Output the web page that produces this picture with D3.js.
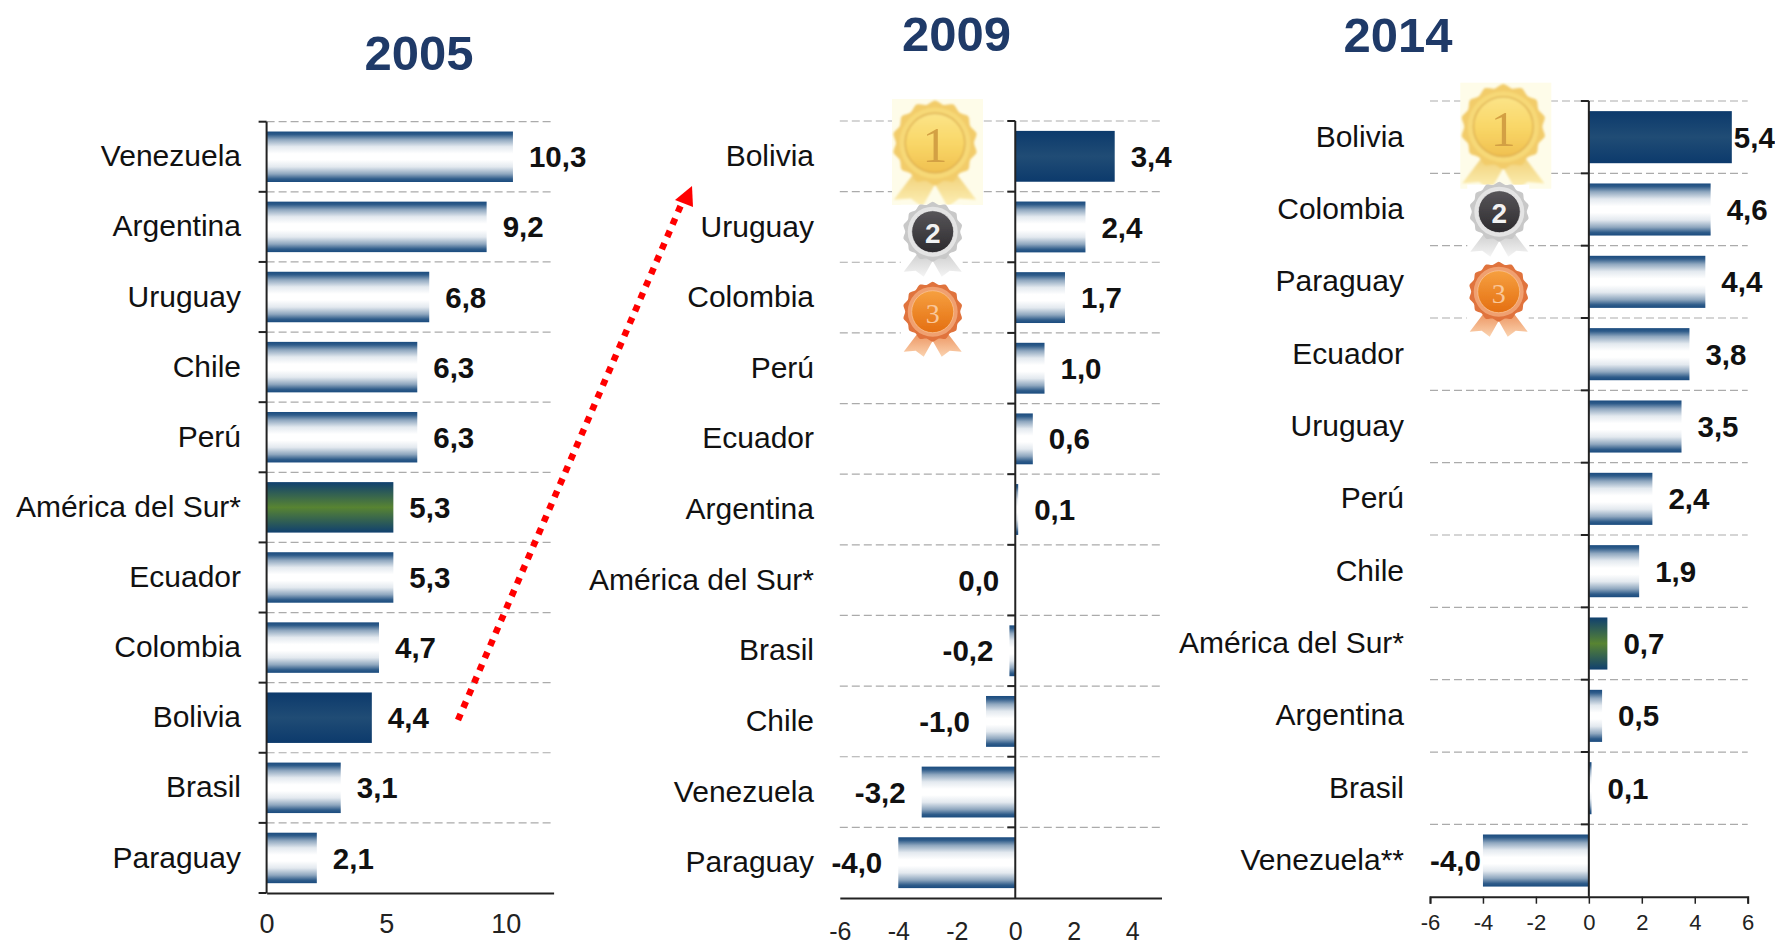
<!DOCTYPE html>
<html lang="es">
<head>
<meta charset="utf-8">
<title>2005 / 2009 / 2014</title>
<script src="https://cdn.jsdelivr.net/npm/d3@7"></script>
<style>
  html, body { margin: 0; padding: 0; background: #fff; }
  svg { display: block; font-family: "Liberation Sans", Arial, sans-serif; }
</style>
</head>
<body>
<div id="chart"></div>
<script>
const countries2005 = ["Venezuela", "Argentina", "Uruguay", "Chile", "Perú", "América del Sur*", "Ecuador", "Colombia", "Bolivia", "Brasil", "Paraguay"];
const values2005 = [10.3, 9.2, 6.8, 6.3, 6.3, 5.3, 5.3, 4.7, 4.4, 3.1, 2.1];

const countries2009 = ["Bolivia", "Uruguay", "Colombia", "Perú", "Ecuador", "Argentina", "América del Sur*", "Brasil", "Chile", "Venezuela", "Paraguay"];
const values2009 = [3.4, 2.4, 1.7, 1.0, 0.6, 0.1, 0.0, -0.2, -1.0, -3.2, -4.0];

const countries2014 = ["Bolivia", "Colombia", "Paraguay", "Ecuador", "Uruguay", "Perú", "Chile", "América del Sur*", "Argentina", "Brasil", "Venezuela**"];
const values2014 = [5.4, 4.6, 4.4, 3.8, 3.5, 2.4, 1.9, 0.7, 0.5, 0.1, -4.0];

const ticks2005 = [0, 5, 10];
const ticks2009 = [-6, -4, -2, 0, 2, 4];
const ticks2014 = [-6, -4, -2, 0, 2, 4, 6];

const panels = [
    { year: "2005", titleX: 419, titleY: 70, names: countries2005, values: values2005, ticks: ticks2005,
      domain: [0, 12], xRange: [266.6, 553.6], yRange: [121.7, 893], labelEnd: 241,
      tickFont: 27, tickPad: 21, tickLen: 0, tight: [] },
    { year: "2009", titleX: 956.5, titleY: 51, names: countries2009, values: values2009, ticks: ticks2009,
      domain: [-6, 5], xRange: [839.8, 1161.5], yRange: [121, 898], labelEnd: 814,
      tickFont: 25, tickPad: 24, tickLen: 0, tight: [] },
    { year: "2014", titleX: 1398, titleY: 52, names: countries2014, values: values2014, ticks: ticks2014,
      domain: [-6, 6], xRange: [1430, 1747.7], yRange: [101, 896.7], labelEnd: 1404,
      tickFont: 22, tickPad: 11, tickLen: 7, tight: ["Bolivia", "Venezuela**"] }
];

const medals = [
    { kind: "gold", cx: 935, cy: 143 }, { kind: "silver", cx: 932.7, cy: 231.7 }, { kind: "bronze", cx: 932.7, cy: 311.7 },
    { kind: "gold", cx: 1503.3, cy: 126.7 }, { kind: "silver", cx: 1499.3, cy: 211.7 }, { kind: "bronze", cx: 1498.7, cy: 291.7 }
];

const svg = d3.select("#chart").append("svg")
    .attr("width", 1775).attr("height", 942)
    .attr("viewBox", "0 0 1775 942");

const defs = svg.append("defs");

function gradient(id, stops) {
    const g = defs.append("linearGradient").attr("id", id)
        .attr("x1", 0).attr("y1", 0).attr("x2", 0).attr("y2", 1);
    stops.forEach(([o, c]) => g.append("stop").attr("offset", o).attr("stop-color", c));
}

gradient("barBlue", [[0, "#1a4b7e"], [0.06, "#2f5c8a"], [0.16, "#8fa7bf"], [0.3, "#e3e9ef"], [0.44, "#ffffff"], [0.56, "#ffffff"], [0.7, "#e3e9ef"], [0.84, "#8fa7bf"], [0.94, "#2f5c8a"], [1, "#1a4b7e"]]);
gradient("barNavy", [[0, "#0c3a6c"], [0.5, "#204c75"], [1, "#0c3a6c"]]);
gradient("barGreen", [[0, "#10406f"], [0.5, "#588432"], [1, "#10406f"]]);
gradient("medalGold", [[0, "#fbe488"], [0.5, "#f9d768"], [1, "#f0c050"]]);
gradient("medalRibbonGold", [[0, "#edc866"], [1, "#fdf0b8"]]);
gradient("medalBronze", [[0, "#f6a040"], [1, "#e46f12"]]);
gradient("medalRibbonBronze", [[0, "#e8834a"], [1, "#fbd3b0"]]);
gradient("medalGrey", [[0, "#58565a"], [1, "#2d2b2e"]]);
gradient("medalRibbonGrey", [[0, "#c4c4c4"], [1, "#f4f4f4"]]);

// the medals are soft raster pictures in the source
defs.append("filter").attr("id", "soft")
    .append("feGaussianBlur").attr("stdDeviation", 0.7);

const fmt = v => v.toFixed(1).replace(".", ",");

function barFill(name) {
    if (name === "Bolivia") return "url(#barNavy)";
    if (name.startsWith("América")) return "url(#barGreen)";
    return "url(#barBlue)";
}

function drawPanel(p) {
    const x = d3.scaleLinear().domain(p.domain).range(p.xRange);
    const y = d3.scaleBand().domain(p.names).range(p.yRange).paddingInner(0.28).paddingOuter(0.14);
    const g = svg.append("g").attr("class", "panel");

    g.append("text")
        .attr("x", p.titleX).attr("y", p.titleY)
        .attr("text-anchor", "middle")
        .style("font-size", "49px").style("font-weight", 700)
        .style("fill", "#1f3a68")
        .text(p.year);

    // band boundaries: dashed rule + short tick left of the zero line
    const edges = d3.range(p.names.length).map(i => p.yRange[0] + i * y.step());
    g.append("g").selectAll("line").data(edges).join("line")
        .attr("x1", p.xRange[0]).attr("x2", p.xRange[1])
        .attr("y1", d => d).attr("y2", d => d)
        .attr("stroke", "#ababab").attr("stroke-width", 1.2)
        .attr("stroke-dasharray", "8 4");

    g.append("g").selectAll("rect").data(p.names).join("rect")
        .attr("x", (d, i) => Math.min(x(0), x(p.values[i])))
        .attr("y", d => y(d))
        .attr("width", (d, i) => Math.abs(x(p.values[i]) - x(0)))
        .attr("height", y.bandwidth())
        .attr("fill", d => barFill(d));

    g.append("g").selectAll("line").data(edges).join("line")
        .attr("x1", x(0) - 8).attr("x2", x(0))
        .attr("y1", d => d).attr("y2", d => d)
        .attr("stroke", "#222").attr("stroke-width", 2);

    // category labels hang off the left edge, wherever the zero line is
    const yAxis = g.append("g")
        .attr("transform", `translate(${p.labelEnd},0)`)
        .call(d3.axisLeft(y).tickSize(0).tickPadding(0));
    yAxis.select(".domain").remove();
    yAxis.selectAll("text")
        .style("font-size", "30px").style("font-family", "inherit").style("fill", "#111")
        .attr("dy", "0.32em");

    g.append("line")
        .attr("x1", x(0)).attr("x2", x(0))
        .attr("y1", p.yRange[0]).attr("y2", p.yRange[1])
        .attr("stroke", "#222").attr("stroke-width", 2);

    const xAxis = g.append("g")
        .attr("transform", `translate(0,${p.yRange[1]})`)
        .call(d3.axisBottom(x).tickValues(p.ticks).tickFormat(d => String(d))
            .tickSize(p.tickLen).tickSizeOuter(p.tickLen).tickPadding(p.tickPad));
    xAxis.select(".domain").attr("stroke", "#222").attr("stroke-width", 2);
    xAxis.selectAll(".tick line").attr("stroke", "#222").attr("stroke-width", 1.5);
    xAxis.selectAll("text")
        .style("font-size", p.tickFont + "px").style("font-family", "inherit").style("fill", "#222");
    if (p.year === "2005") {
        // the baseline runs on past the zero line to meet the category ticks
        g.append("line").attr("x1", x(0) - 8).attr("x2", x(0))
            .attr("y1", p.yRange[1]).attr("y2", p.yRange[1])
            .attr("stroke", "#222").attr("stroke-width", 2);
    }

    g.append("g").selectAll("text").data(p.names).join("text")
        .attr("x", (d, i) => {
            const v = p.values[i], gap = p.tight.includes(d) ? 2 : 16;
            return v > 0 ? x(v) + gap : x(v) - gap;
        })
        .attr("y", d => y(d) + y.bandwidth() / 2)
        .attr("dy", "0.36em")
        .attr("text-anchor", (d, i) => p.values[i] > 0 ? "start" : "end")
        .style("font-size", "29.5px").style("font-weight", 700).style("fill", "#111")
        .text((d, i) => fmt(p.values[i]));
}

// scalloped rosette outline around (0,0)
function rosette(r, lobes, depth) {
    const pts = d3.range(lobes * 2).map(i => [i * Math.PI / lobes, i % 2 ? r - depth : r]);
    return d3.lineRadial().curve(d3.curveCardinalClosed.tension(0.2))(pts);
}

const medalStyles = {
    gold: { bg: "#fefce9", box: [-43, -44, 91, 106], scale: 1.42, edge: "#f2cc6a", rim: "#f7d977", face: "url(#medalGold)", ribbon: "url(#medalRibbonGold)", ink: "#d3a044", label: "1", font: 50, fw: 400, serif: true },
    silver: { bg: "#ffffff", box: [-32, -27, 62, 72], scale: 1, edge: "#c8c8c8", rim: "#e4e4e4", face: "url(#medalGrey)", ribbon: "url(#medalRibbonGrey)", ink: "#f2f2f2", label: "2", font: 28, fw: 700, serif: false },
    bronze: { bg: "#ffffff", box: [-32, -27, 62, 74], scale: 1, edge: "#e0733c", rim: "#f0a070", face: "url(#medalBronze)", ribbon: "url(#medalRibbonBronze)", ink: "#f9c79a", label: "3", font: 28, fw: 400, serif: true }
};

function drawMedal(m) {
    const s = medalStyles[m.kind];
    const g = svg.append("g").attr("class", "medal").attr("transform", `translate(${m.cx},${m.cy})`);
    g.append("rect").attr("x", s.box[0]).attr("y", s.box[1]).attr("width", s.box[2]).attr("height", s.box[3]).attr("fill", s.bg);

    const inner = g.append("g").attr("transform", `scale(${s.scale})`).attr("filter", "url(#soft)");
    inner.append("path").attr("d", "M-10,15 L-29,40 L-17,39 L-9,45 L4,22 Z").attr("fill", s.ribbon);
    inner.append("path").attr("d", "M10,15 L29,40 L17,39 L9,45 L-4,22 Z").attr("fill", s.ribbon);
    inner.append("path").attr("d", rosette(30, 14, 2.5)).attr("fill", s.edge);
    inner.append("circle").attr("r", 25).attr("fill", s.rim);
    inner.append("circle").attr("r", 21).attr("fill", s.face)
        .attr("stroke", s.ink).attr("stroke-width", 1).attr("stroke-opacity", 0.7);
    g.append("text")
        .attr("y", 1).attr("dy", "0.36em")
        .attr("text-anchor", "middle")
        .style("font-size", s.font + "px").style("font-weight", s.fw)
        .style("font-family", s.serif ? "'Liberation Serif', serif" : "inherit")
        .style("fill", s.ink)
        .text(s.label);
}

panels.forEach(drawPanel);
medals.forEach(drawMedal);

// dotted red arrow from the 2005 Bolivia bar up to the 2009 ranking
const arrow = svg.append("g").attr("class", "arrow");
arrow.append("line")
    .attr("x1", 458).attr("y1", 720).attr("x2", 681).attr("y2", 205)
    .attr("stroke", "#ff0000").attr("stroke-width", 6.5)
    .attr("stroke-dasharray", "6.5 7");
arrow.append("path").attr("d", "M692,186 L675,200 L693,207 Z").attr("fill", "#ff0000");
</script>
</body>
</html>
